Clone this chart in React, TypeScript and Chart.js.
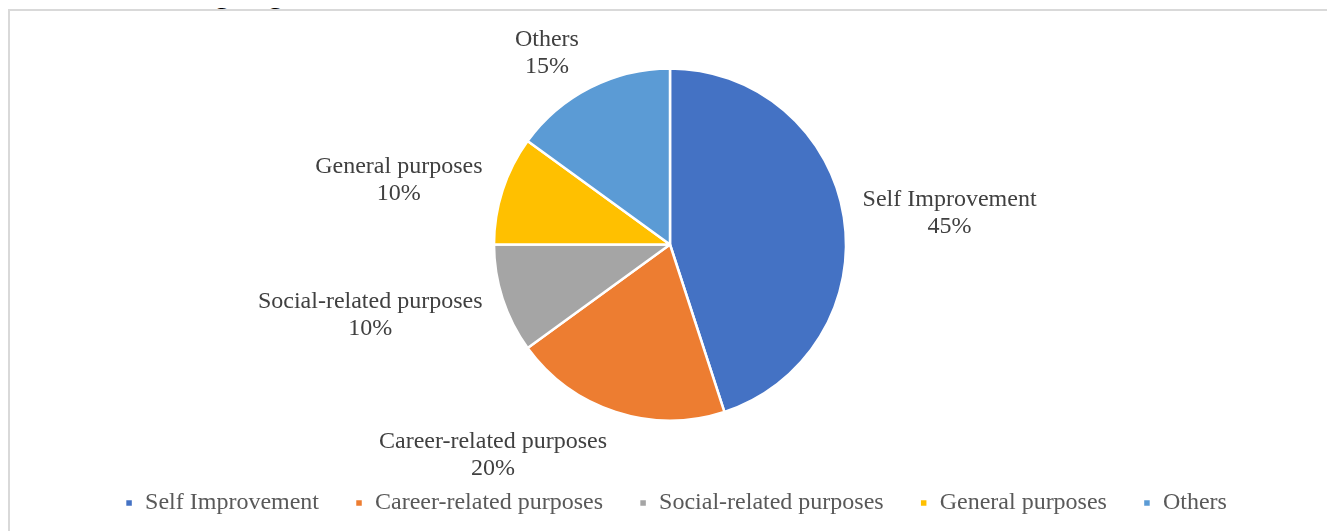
import React, { useEffect, useRef } from "react";
import { Chart, registerables } from "chart.js";

Chart.register(...registerables);

const categories = [
  "Self Improvement",
  "Career-related purposes",
  "Social-related purposes",
  "General purposes",
  "Others",
];
const values = [45, 20, 10, 10, 15];
const percentLabels = ["45%", "20%", "10%", "10%", "15%"];
const colors = ["#4472C4", "#ED7D31", "#A5A5A5", "#FFC000", "#5B9BD5"];

const SERIF = "'Times New Roman', 'Liberation Serif', serif";

const outsideLabels = {
  id: "outsideLabels",
  afterDatasetsDraw(chart: any) {
    const ctx = chart.ctx;
    const meta = chart.getDatasetMeta(0);
    ctx.save();
    ctx.font = `24px ${SERIF}`;
    ctx.fillStyle = "#404040";
    ctx.textAlign = "center";
    ctx.textBaseline = "middle";
    const lineH = 27;
    meta.data.forEach((arc: any, i: number) => {
      const p = arc.getProps(["x", "y", "startAngle", "endAngle", "outerRadius"], true);
      const mid = (p.startAngle + p.endAngle) / 2;
      const R = p.outerRadius + 18;
      const ax = p.x + Math.cos(mid) * R;
      const ay = p.y + Math.sin(mid) * R;
      const lines = [categories[i], percentLabels[i]];
      const w = Math.max(...lines.map((l) => ctx.measureText(l).width));
      const c = Math.cos(mid);
      const s = Math.sin(mid);
      const sign = Math.abs(c) < 0.1 ? 0 : Math.sign(c);
      const cx = ax + sign * w / 2 + (sign < 0 ? -3 : 1);
      const cy = ay + 3 + s * 24;
      lines.forEach((l, k) => {
        ctx.fillText(l, cx, cy + (k - 0.5) * lineH);
      });
    });
    ctx.restore();
  },
};

const shiftLegend = {
  id: "shiftLegend",
  afterLayout(chart: any) {
    if (chart.legend) {
      chart.legend.left += 6;
      chart.legend.right += 6;
    }
  },
};

export default function App() {
  const ref = useRef<HTMLCanvasElement | null>(null);
  useEffect(() => {
    if (!ref.current) return;
    const chart = new Chart(ref.current, {
      type: "pie",
      data: {
        labels: categories,
        datasets: [
          {
            data: values,
            backgroundColor: colors,
            borderColor: "#ffffff",
            borderWidth: 2.5,
            radius: 176,
          } as any,
        ],
      },
      options: {
        responsive: false,
        animation: false,
        layout: { padding: { top: 23, left: 0, right: 0, bottom: 0 } },
        plugins: {
          legend: {
            position: "bottom",
            labels: {
              boxWidth: 8,
              boxHeight: 8,
              padding: 36,
              color: "#595959",
              font: { family: SERIF, size: 24 },
            },
          },
          tooltip: { enabled: false },
        },
      },
      plugins: [outsideLabels, shiftLegend],
    });
    return () => chart.destroy();
  }, []);

  return (
    <div style={{ position: "relative" }}>
      <div
        style={{
          marginTop: 1,
          width: 1324,
          height: 545,
          boxSizing: "border-box",
          border: "2px solid #d9d9d9",
          background: "#fff",
        }}
      >
        <canvas ref={ref} width={1320} height={514} style={{ display: "block" }} />
      </div>
      <div
        style={{
          position: "absolute",
          left: 152,
          top: -33,
          zIndex: 2,
          fontFamily: "Arial, 'Liberation Sans', sans-serif",
          fontWeight: "bold",
          fontSize: 30,
          lineHeight: "34px",
          color: "#000",
          whiteSpace: "nowrap",
        }}
      >
        Language
      </div>
    </div>
  );
}
